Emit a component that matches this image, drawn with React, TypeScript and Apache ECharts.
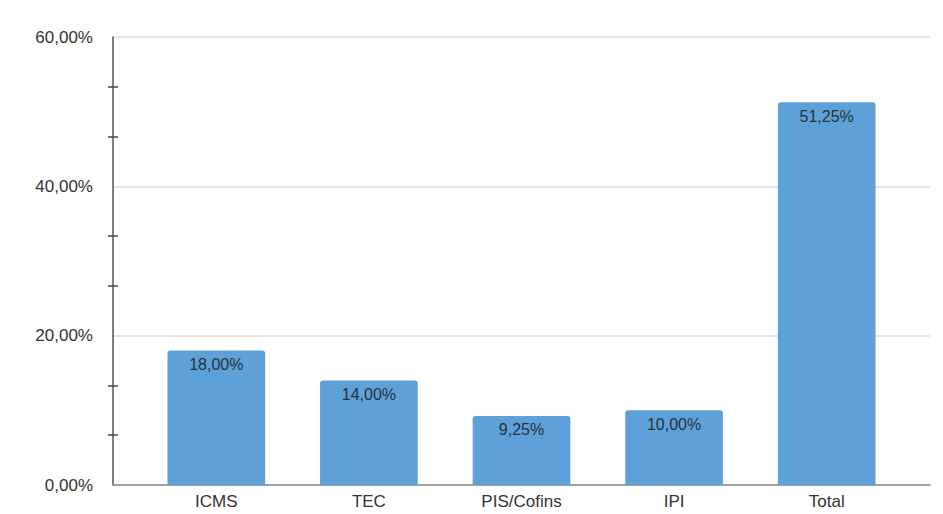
import React, { useEffect, useRef } from "react";
import * as echarts from "echarts";

const categories = ["ICMS", "TEC", "PIS/Cofins", "IPI", "Total"];
const values = [18.0, 14.0, 9.25, 10.0, 51.25];
const yTicks = [0, 20, 40, 60];

const fmt = (v: number) => v.toFixed(2).replace(".", ",") + "%";

export default function App() {
  const ref = useRef<HTMLDivElement>(null);
  useEffect(() => {
    if (!ref.current) return;
    const chart = echarts.init(ref.current, null, { renderer: "svg" });
    const font = "Arial, 'Liberation Sans', sans-serif";
    const tickStyle = { color: "#444", width: 1.5 };
    chart.setOption({
      animation: false,
      backgroundColor: "#ffffff",
      grid: [
        { left: 113, right: 13, top: 37, bottom: 29 },
        { left: 140, right: 40, top: 37, bottom: 29 },
      ],
      xAxis: [
        {
          gridIndex: 0,
          type: "value",
          min: 0,
          max: 1,
          axisLine: { show: true, onZero: false, lineStyle: { color: "#8a8a8a", width: 1.5 } },
          axisTick: { show: false },
          axisLabel: { show: false },
          splitLine: { show: false },
        },
        {
          gridIndex: 1,
          type: "category",
          data: categories,
          axisLine: { show: false },
          axisTick: { show: false },
          axisLabel: { color: "#333", fontSize: 17, fontFamily: font, margin: 8 },
        },
      ],
      yAxis: [
        {
          gridIndex: 0,
          type: "value",
          min: yTicks[0],
          max: yTicks[yTicks.length - 1],
          interval: 20,
          axisLine: { show: true, lineStyle: { color: "#555", width: 1.5 } },
          axisTick: { show: false },
          minorTick: { show: true, splitNumber: 3, length: 5, lineStyle: tickStyle },
          splitLine: { show: true, lineStyle: { color: "#dcdcdc", width: 1.5 } },
          axisLabel: { color: "#333", fontSize: 17, fontFamily: font, margin: 20, formatter: (v: number) => fmt(v) },
        },
        {
          gridIndex: 0,
          type: "value",
          min: yTicks[0],
          max: yTicks[yTicks.length - 1],
          interval: 20,
          position: "left",
          offset: -5,
          axisLine: { show: false },
          axisTick: { show: false },
          minorTick: { show: true, splitNumber: 3, length: 5, lineStyle: tickStyle },
          splitLine: { show: false },
          axisLabel: { show: false },
        },
        {
          gridIndex: 1,
          type: "value",
          min: 0,
          max: 60,
          show: false,
        },
      ],
      series: [
        {
          type: "bar",
          xAxisIndex: 1,
          yAxisIndex: 2,
          data: values,
          barCategoryGap: "36%",
          itemStyle: { color: "#5ea1d8", borderRadius: [3, 3, 0, 0] },
          label: {
            show: true,
            position: "insideTop",
            distance: 6,
            color: "#26323d",
            fontSize: 16,
            fontFamily: font,
            formatter: (p: any) => fmt(p.value),
          },
        },
      ],
    });
    return () => chart.dispose();
  }, []);
  return (
    <div
      ref={ref}
      style={{ position: "fixed", left: 0, top: 0, width: 943, height: 514 }}
    />
  );
}
